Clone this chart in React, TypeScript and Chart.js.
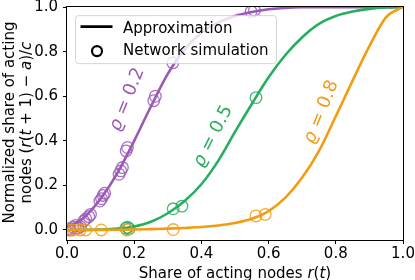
import React, { useEffect, useRef } from "react";
import { Chart, registerables } from "chart.js";

Chart.register(...registerables);

// ---- data ----
const xTicks = [0, 0.2, 0.4, 0.6, 0.8, 1.0];
const yTicks = [0, 0.2, 0.4, 0.6, 0.8, 1.0];

const xGrid = [0, 0.05, 0.1, 0.15, 0.2, 0.25, 0.3, 0.35, 0.4, 0.45, 0.5, 0.55, 0.6, 0.65, 0.7, 0.75, 0.8, 0.85, 0.9, 0.95, 1.0];
const approxRho02 = [0.012, 0.055, 0.14, 0.255, 0.4, 0.555, 0.7, 0.81, 0.885, 0.93, 0.96, 0.978, 0.99, 0.996, 0.999, 1.0, 1.0, 1.0, 1.0, 1.0, 1.0];
const approxRho05 = [0.0, 0.0005, 0.002, 0.006, 0.016, 0.037, 0.075, 0.13, 0.205, 0.31, 0.44, 0.565, 0.685, 0.785, 0.865, 0.925, 0.96, 0.98, 0.992, 0.998, 1.0];
const approxRho08 = [0.0, 0.0, 0.0005, 0.001, 0.002, 0.004, 0.006, 0.009, 0.013, 0.02, 0.031, 0.05, 0.085, 0.145, 0.235, 0.355, 0.51, 0.67, 0.825, 0.955, 1.0];

const simRho02X = [0.004, 0.01, 0.018, 0.025, 0.032, 0.04, 0.05, 0.056, 0.065, 0.07, 0.098, 0.103, 0.108, 0.112, 0.155, 0.16, 0.165, 0.176, 0.18, 0.258, 0.263, 0.315, 0.548, 0.558];
const simRho02Y = [0.005, 0.0, 0.012, 0.02, 0.008, 0.015, 0.04, 0.05, 0.06, 0.07, 0.13, 0.14, 0.155, 0.165, 0.25, 0.265, 0.28, 0.355, 0.37, 0.58, 0.6, 0.75, 0.98, 0.985];
const simRho05X = [0.175, 0.18, 0.185, 0.316, 0.342, 0.5625];
const simRho05Y = [0.008, 0.012, 0.006, 0.095, 0.107, 0.594];
const simRho08X = [0.005, 0.018, 0.039, 0.056, 0.102, 0.178, 0.316, 0.5625, 0.59];
const simRho08Y = [0, 0, 0, 0, 0, 0, 0.002, 0.063, 0.07];

const rhoValues = ["0.2", "0.5", "0.8"];

// ---- style ----
const FONT = "'DejaVu Sans', sans-serif";
const PURPLE = "#9b59b6";
const GREEN = "#27ae60";
const ORANGE = "#f39c12";
const COLORS = [PURPLE, GREEN, ORANGE];
const labelAnchors = [
  { x: 0.179, y: 0.585, angle: -68 },
  { x: 0.435, y: 0.42, angle: -63 },
  { x: 0.757, y: 0.529, angle: -68 },
];

type Part = [string, boolean];

function drawParts(ctx: CanvasRenderingContext2D, parts: Part[], x: number, y: number, size: number, baseline: CanvasTextBaseline) {
  let total = 0;
  const widths: number[] = [];
  for (const [t, it] of parts) {
    ctx.font = `${it ? "italic " : ""}${size}px ${FONT}`;
    const w = ctx.measureText(t).width;
    widths.push(w);
    total += w;
  }
  let cx = x - total / 2;
  ctx.textAlign = "left";
  ctx.textBaseline = baseline;
  parts.forEach(([t, it], i) => {
    ctx.font = `${it ? "italic " : ""}${size}px ${FONT}`;
    ctx.fillText(t, cx, y);
    cx += widths[i];
  });
}

const alpha = (hex: string, a: number) => {
  const r = parseInt(hex.slice(1, 3), 16), g = parseInt(hex.slice(3, 5), 16), b = parseInt(hex.slice(5, 7), 16);
  return `rgba(${r},${g},${b},${a})`;
};

const overlay = {
  id: "overlay",
  afterDraw(chart: any) {
    const ctx: CanvasRenderingContext2D = chart.ctx;
    const { left, right, top, bottom } = chart.chartArea;
    const xs = chart.scales.x, ys = chart.scales.y;
    ctx.save();
    // spines
    ctx.strokeStyle = "#000";
    ctx.lineWidth = 1;
    ctx.strokeRect(Math.round(left) - 0.5, Math.round(top) - 0.5, Math.round(right) - Math.round(left) + 1, Math.round(bottom) - Math.round(top) + 1);

    // rho labels
    labelAnchors.forEach((a, i) => {
      ctx.save();
      ctx.translate(xs.getPixelForValue(a.x), ys.getPixelForValue(a.y));
      ctx.rotate((a.angle * Math.PI) / 180);
      ctx.fillStyle = COLORS[i];
      drawParts(ctx, [["ϱ", true], [" = " + rhoValues[i], false]], 0, 0, 18, "middle");
      ctx.restore();
    });

    // legend
    const lx = left + 8.5, ly = top + 8.5, lw = 201, lh = 48;
    ctx.beginPath();
    (ctx as any).roundRect(lx, ly, lw, lh, 3);
    ctx.fillStyle = "rgba(255,255,255,0.8)";
    ctx.fill();
    ctx.strokeStyle = "rgba(204,204,204,0.8)";
    ctx.lineWidth = 1;
    ctx.stroke();
    ctx.strokeStyle = "#000";
    ctx.lineWidth = 2.6;
    ctx.beginPath();
    ctx.moveTo(lx + 5, ly + 11);
    ctx.lineTo(lx + 37, ly + 11);
    ctx.stroke();
    ctx.lineWidth = 2.2;
    ctx.beginPath();
    ctx.arc(lx + 21.5, ly + 35.5, 5, 0, Math.PI * 2);
    ctx.stroke();
    ctx.fillStyle = "#000";
    ctx.font = `15px ${FONT}`;
    ctx.textAlign = "left";
    ctx.textBaseline = "alphabetic";
    ctx.fillText("Approximation", lx + 47.5, ly + 17);
    ctx.fillText("Network simulation", lx + 47.5, ly + 39);

    // axis titles
    ctx.fillStyle = "#000";
    drawParts(ctx, [["Share of acting nodes ", false], ["r", true], ["(", false], ["t", true], [")", false]], (left + right) / 2, 278, 15, "alphabetic");
    ctx.save();
    ctx.translate(0, (top + bottom) / 2 - 1);
    ctx.rotate(-Math.PI / 2);
    drawParts(ctx, [["Normalized share of acting", false]], 0, 13.5, 15, "alphabetic");
    drawParts(
      ctx,
      [["nodes (", false], ["r", true], ["(", false], ["t", true], [" + 1) − ", false], ["a", true], [")/", false], ["c", true]],
      0, 31, 15, "alphabetic"
    );
    ctx.restore();
    ctx.restore();
  },
};

function lineDs(ys: number[], color: string) {
  return {
    type: "line" as const,
    data: xGrid.map((x, i) => ({ x, y: ys[i] })),
    borderColor: color,
    backgroundColor: color,
    borderWidth: 2.6,
    pointRadius: 0,
    showLine: true,
    cubicInterpolationMode: "monotone" as const,
    clip: 0,
  };
}

function simDs(xs: number[], ys: number[], color: string) {
  return {
    type: "scatter" as const,
    data: xs.map((x, i) => ({ x, y: ys[i] })),
    borderColor: alpha(color, 0.85),
    backgroundColor: "rgba(0,0,0,0)",
    borderWidth: 1.3,
    pointRadius: 5.8,
    pointStyle: "circle",
    showLine: false,
    clip: 0,
  };
}

export default function App() {
  const ref = useRef<HTMLCanvasElement | null>(null);
  useEffect(() => {
    document.body.style.margin = "0";
    if (!ref.current) return;
    const tickFont = { family: FONT, size: 15 };
    const chart = new Chart(ref.current, {
      type: "scatter",
      data: {
        datasets: [
          simDs(simRho08X, simRho08Y, ORANGE),
          lineDs(approxRho08, ORANGE),
          simDs(simRho05X, simRho05Y, GREEN),
          lineDs(approxRho05, GREEN),
          simDs(simRho02X, simRho02Y, PURPLE),
          lineDs(approxRho02, PURPLE),
        ] as any,
      },
      options: {
        animation: false,
        responsive: false,
        devicePixelRatio: 1,
        layout: { padding: { top: 6, right: 12, left: 0, bottom: 0 } },
        plugins: { legend: { display: false }, tooltip: { enabled: false } },
        events: [],
        scales: {
          x: {
            type: "linear",
            min: 0,
            max: 1,
            afterBuildTicks: (s: any) => { s.ticks = xTicks.map((v) => ({ value: v })); },
            afterFit: (s: any) => { s.height = 40; s.paddingLeft = 0; s.paddingRight = 0; },
            ticks: { font: tickFont, color: "#000", padding: 1.5, maxRotation: 0, callback: (v: any) => Number(v).toFixed(1) },
            grid: { display: true, drawOnChartArea: false, drawTicks: true, tickLength: 4, tickColor: "#000", tickWidth: 1 },
            border: { display: false },
          },
          y: {
            type: "linear",
            min: -0.045,
            max: 1.0,
            afterBuildTicks: (s: any) => { s.ticks = yTicks.map((v) => ({ value: v })); },
            afterFit: (s: any) => { s.width = 67; s.paddingTop = 0; s.paddingBottom = 0; },
            ticks: { font: tickFont, color: "#000", padding: 5, callback: (v: any) => Number(v).toFixed(1) },
            grid: { display: true, drawOnChartArea: false, drawTicks: true, tickLength: 4, tickColor: "#000", tickWidth: 1 },
            border: { display: false },
          },
        },
      },
      plugins: [overlay],
    } as any);
    return () => chart.destroy();
  }, []);
  return <canvas ref={ref} width={415} height={280} style={{ display: "block" }} />;
}
